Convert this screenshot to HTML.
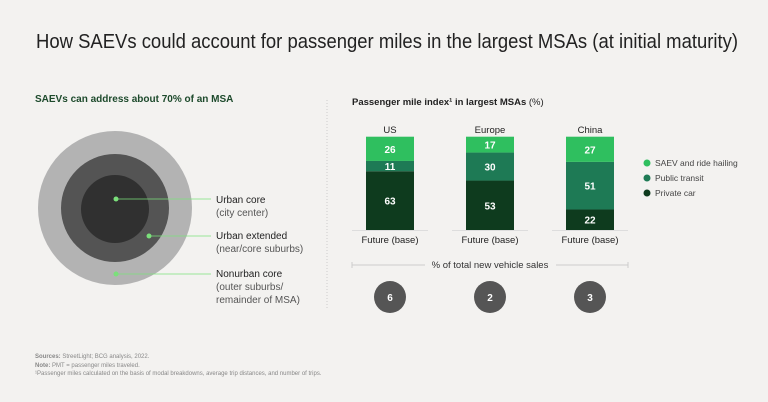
<!DOCTYPE html>
<html><head><meta charset="utf-8"><style>
body{margin:0;background:#f3f2f0;font-family:"Liberation Sans",sans-serif;}
svg{display:block}
</style></head><body>
<svg width="768" height="402" viewBox="0 0 768 402">
<rect width="768" height="402" fill="#f3f2f0"/>
<text x="36" y="48" font-size="20" fill="#222" textLength="702" lengthAdjust="spacingAndGlyphs">How SAEVs could account for passenger miles in the largest MSAs (at initial maturity)</text>
<text x="35" y="102" font-size="10" font-weight="bold" fill="#1d4a2c">SAEVs can address about 70% of an MSA</text>
<line x1="327" y1="100" x2="327" y2="310" stroke="#ccc" stroke-dasharray="1,2"/>
<circle cx="115" cy="208" r="77" fill="#b3b3b3"/>
<circle cx="115" cy="208" r="54" fill="#545454"/>
<circle cx="115" cy="209" r="34" fill="#303030"/>
<g stroke="#7be07b" stroke-width="0.8">
<line x1="116" y1="199" x2="211" y2="199"/><line x1="149" y1="236" x2="211" y2="236"/><line x1="116" y1="274" x2="211" y2="274"/></g>
<g fill="#7be07b"><circle cx="116" cy="199" r="2.5"/><circle cx="149" cy="236" r="2.5"/><circle cx="116" cy="274" r="2.5"/></g>
<g font-size="10" fill="#222">
<text x="216" y="203">Urban core</text>
<text x="216" y="216" fill="#555">(city center)</text>
<text x="216" y="239">Urban extended</text>
<text x="216" y="252" fill="#555">(near/core suburbs)</text>
<text x="216" y="277">Nonurban core</text>
<text x="216" y="290" fill="#555">(outer suburbs/</text>
<text x="216" y="303" fill="#555">remainder of MSA)</text>
</g>
<text x="352" y="105" font-size="9.5" font-weight="bold" fill="#222">Passenger mile index¹ in largest MSAs <tspan font-weight="normal">(%)</tspan></text>
<g id="bars"></g>
<g font-size="8.5" fill="#444">
<circle cx="647" cy="163" r="3.5" fill="#2fbf5f"/><text x="655" y="166">SAEV and ride hailing</text>
<circle cx="647" cy="178" r="3.5" fill="#1e7a55"/><text x="655" y="181">Public transit</text>
<circle cx="647" cy="193" r="3.5" fill="#0e3b1e"/><text x="655" y="196">Private car</text>
</g>
<line x1="352" y1="265" x2="425" y2="265" stroke="#ccc"/><line x1="556" y1="265" x2="628" y2="265" stroke="#ccc"/>
<line x1="352" y1="262" x2="352" y2="268" stroke="#ccc"/><line x1="628" y1="262" x2="628" y2="268" stroke="#ccc"/>
<text x="490" y="268" font-size="9.5" fill="#333" text-anchor="middle">% of total new vehicle sales</text>
<g font-size="6" fill="#888">
<text x="35" y="358"><tspan font-weight="bold">Sources:</tspan> StreetLight; BCG analysis, 2022.</text>
<text x="35" y="367"><tspan font-weight="bold">Note:</tspan> PMT = passenger miles traveled.</text>
<text x="35" y="375">¹Passenger miles calculated on the basis of modal breakdowns, average trip distances, and number of trips.</text>
</g>
</svg>
<script>
const regions=["US","Europe","China"];
const saev=[26,17,27];
const transit=[11,30,51];
const car=[63,53,22];
const sales=[6,2,3];
const NS="http://www.w3.org/2000/svg";
const g=document.getElementById('bars');
const base=230,scale=93.3/100,w=48;
const xc=i=>390+i*100;
function mk(t,a){const e=document.createElementNS(NS,t);for(const k in a)e.setAttribute(k,a[k]);g.appendChild(e);return e;}
regions.forEach((r,i)=>{
  let y=base;
  const segs=[[car[i],"#0e3b1e","car"],[transit[i],"#1e7a55","transit"],[saev[i],"#2fbf5f","saev"]];
  segs.forEach(s=>{
    const h=s[0]*scale;y-=h;
    const rc=mk('rect',{x:xc(i)-w/2,y:y,width:w,height:h,fill:s[1]});
    
    
    const t=mk('text',{x:xc(i),y:y+h/2+4,'font-size':10,'font-weight':'bold',fill:'#fff','text-anchor':'middle'});
    t.textContent=s[0];
    
    
  });
  const bl=mk('line',{x1:xc(i)-38,x2:xc(i)+38,y1:base+0.5,y2:base+0.5,stroke:'#ddd'});
  
  
  const lt=mk('text',{x:xc(i),y:133,'font-size':9.5,fill:'#222','text-anchor':'middle'});
  lt.textContent=r;
  
  
  const ft=mk('text',{x:xc(i),y:243,'font-size':9.5,fill:'#222','text-anchor':'middle'});
  ft.textContent="Future (base)";
  
  
  const c=mk('circle',{cx:xc(i),cy:297,r:16,fill:'#555'});
  
  
  const ct=mk('text',{x:xc(i),y:301,'font-size':10,'font-weight':'bold',fill:'#fff','text-anchor':'middle'});
  ct.textContent=sales[i];
  
  
});
</script>
</body></html>
